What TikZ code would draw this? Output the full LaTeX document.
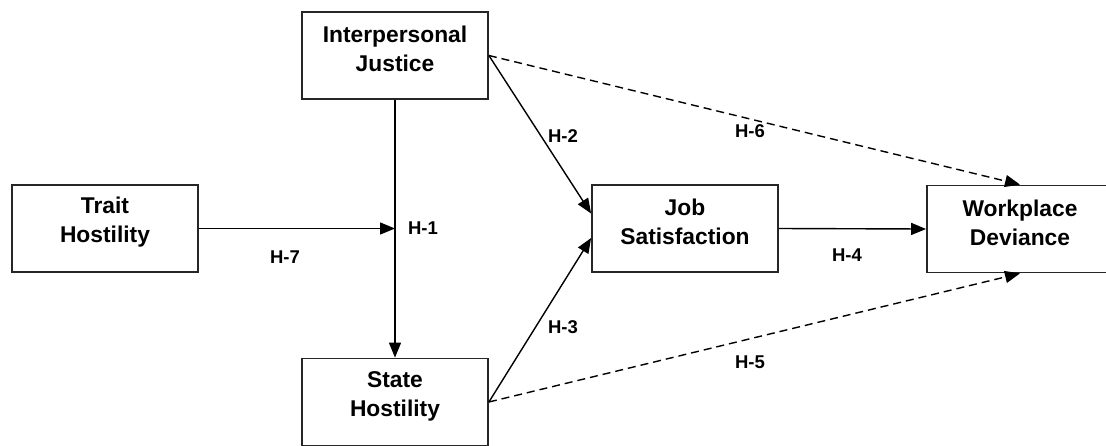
\documentclass[tikz,border=0pt]{standalone}
\usepackage{fontspec}
\setmainfont{Liberation Sans}
\usetikzlibrary{arrows.meta,calc}
\begin{document}
\begin{tikzpicture}[x=1pt,y=-1pt,
  box/.style={draw=black!85,line width=1.8pt,minimum width=186pt,minimum height=87pt,inner sep=0pt},
  boxtext/.style={font=\fontsize{22.8}{29}\selectfont\bfseries,align=center,inner sep=0pt},
  hlabel/.style={font=\fontsize{18.5}{22}\selectfont\bfseries,inner sep=0pt},
  link/.style={line width=1.4pt,-{Triangle[length=15pt,width=12pt]}},
  dlink/.style={link,dash pattern=on 8pt off 5pt},
]
\useasboundingbox (0,0) rectangle (1106,445);
\clip (0,0) rectangle (1106,445);
\fill[white] (0,0) rectangle (1106,445);

% construct boxes
\node[box] (ij) at (395,55.5) {};
\node[box] (th) at (105,228.5) {};
\node[box] (sh) at (395,402) {};
\node[box] (js) at (685,228.5) {};
\node[box] (wd) at (1020,229) {};

% box captions
\node[boxtext] (ijt) at (395,49) {Interpersonal\\Justice};
\node[boxtext] (tht) at (105,222) {Trait\\Hostility};
\node[boxtext] (sht) at (395,396) {State\\Hostility};
\node[boxtext] (jst) at (685,222) {Job\\Satisfaction};
\node[boxtext] (wdt) at (1020,222.5) {Workplace\\Deviance};

% paths
\coordinate (mod) at (ij.south |- th.east);
\coordinate (jsin1) at ($(js.west)+(0,-15)$);
\coordinate (jsin2) at ($(js.west)+(0,9.5)$);
\draw[link] (th.east) -- (mod);
\draw[link] (ij.south) -- (sh.north);
\draw[link] (ij.east) -- (jsin1);
\draw[link] (sh.east) -- (jsin2);
\draw[link] (js.east) -- (wd.west);
\draw[dlink] (ij.east) -- (wd.north);
\draw[dlink] (sh.east) -- (wd.south);

% hypothesis labels
\node[hlabel] (h1) at (423,228) {H-1};
\node[hlabel] (h2) at (563,136) {H-2};
\node[hlabel] (h3) at (563,327) {H-3};
\node[hlabel] (h4) at (847,255) {H-4};
\node[hlabel] (h5) at (750,362) {H-5};
\node[hlabel] (h6) at (750,131) {H-6};
\node[hlabel] (h7) at (285,257) {H-7};
\end{tikzpicture}
\end{document}
